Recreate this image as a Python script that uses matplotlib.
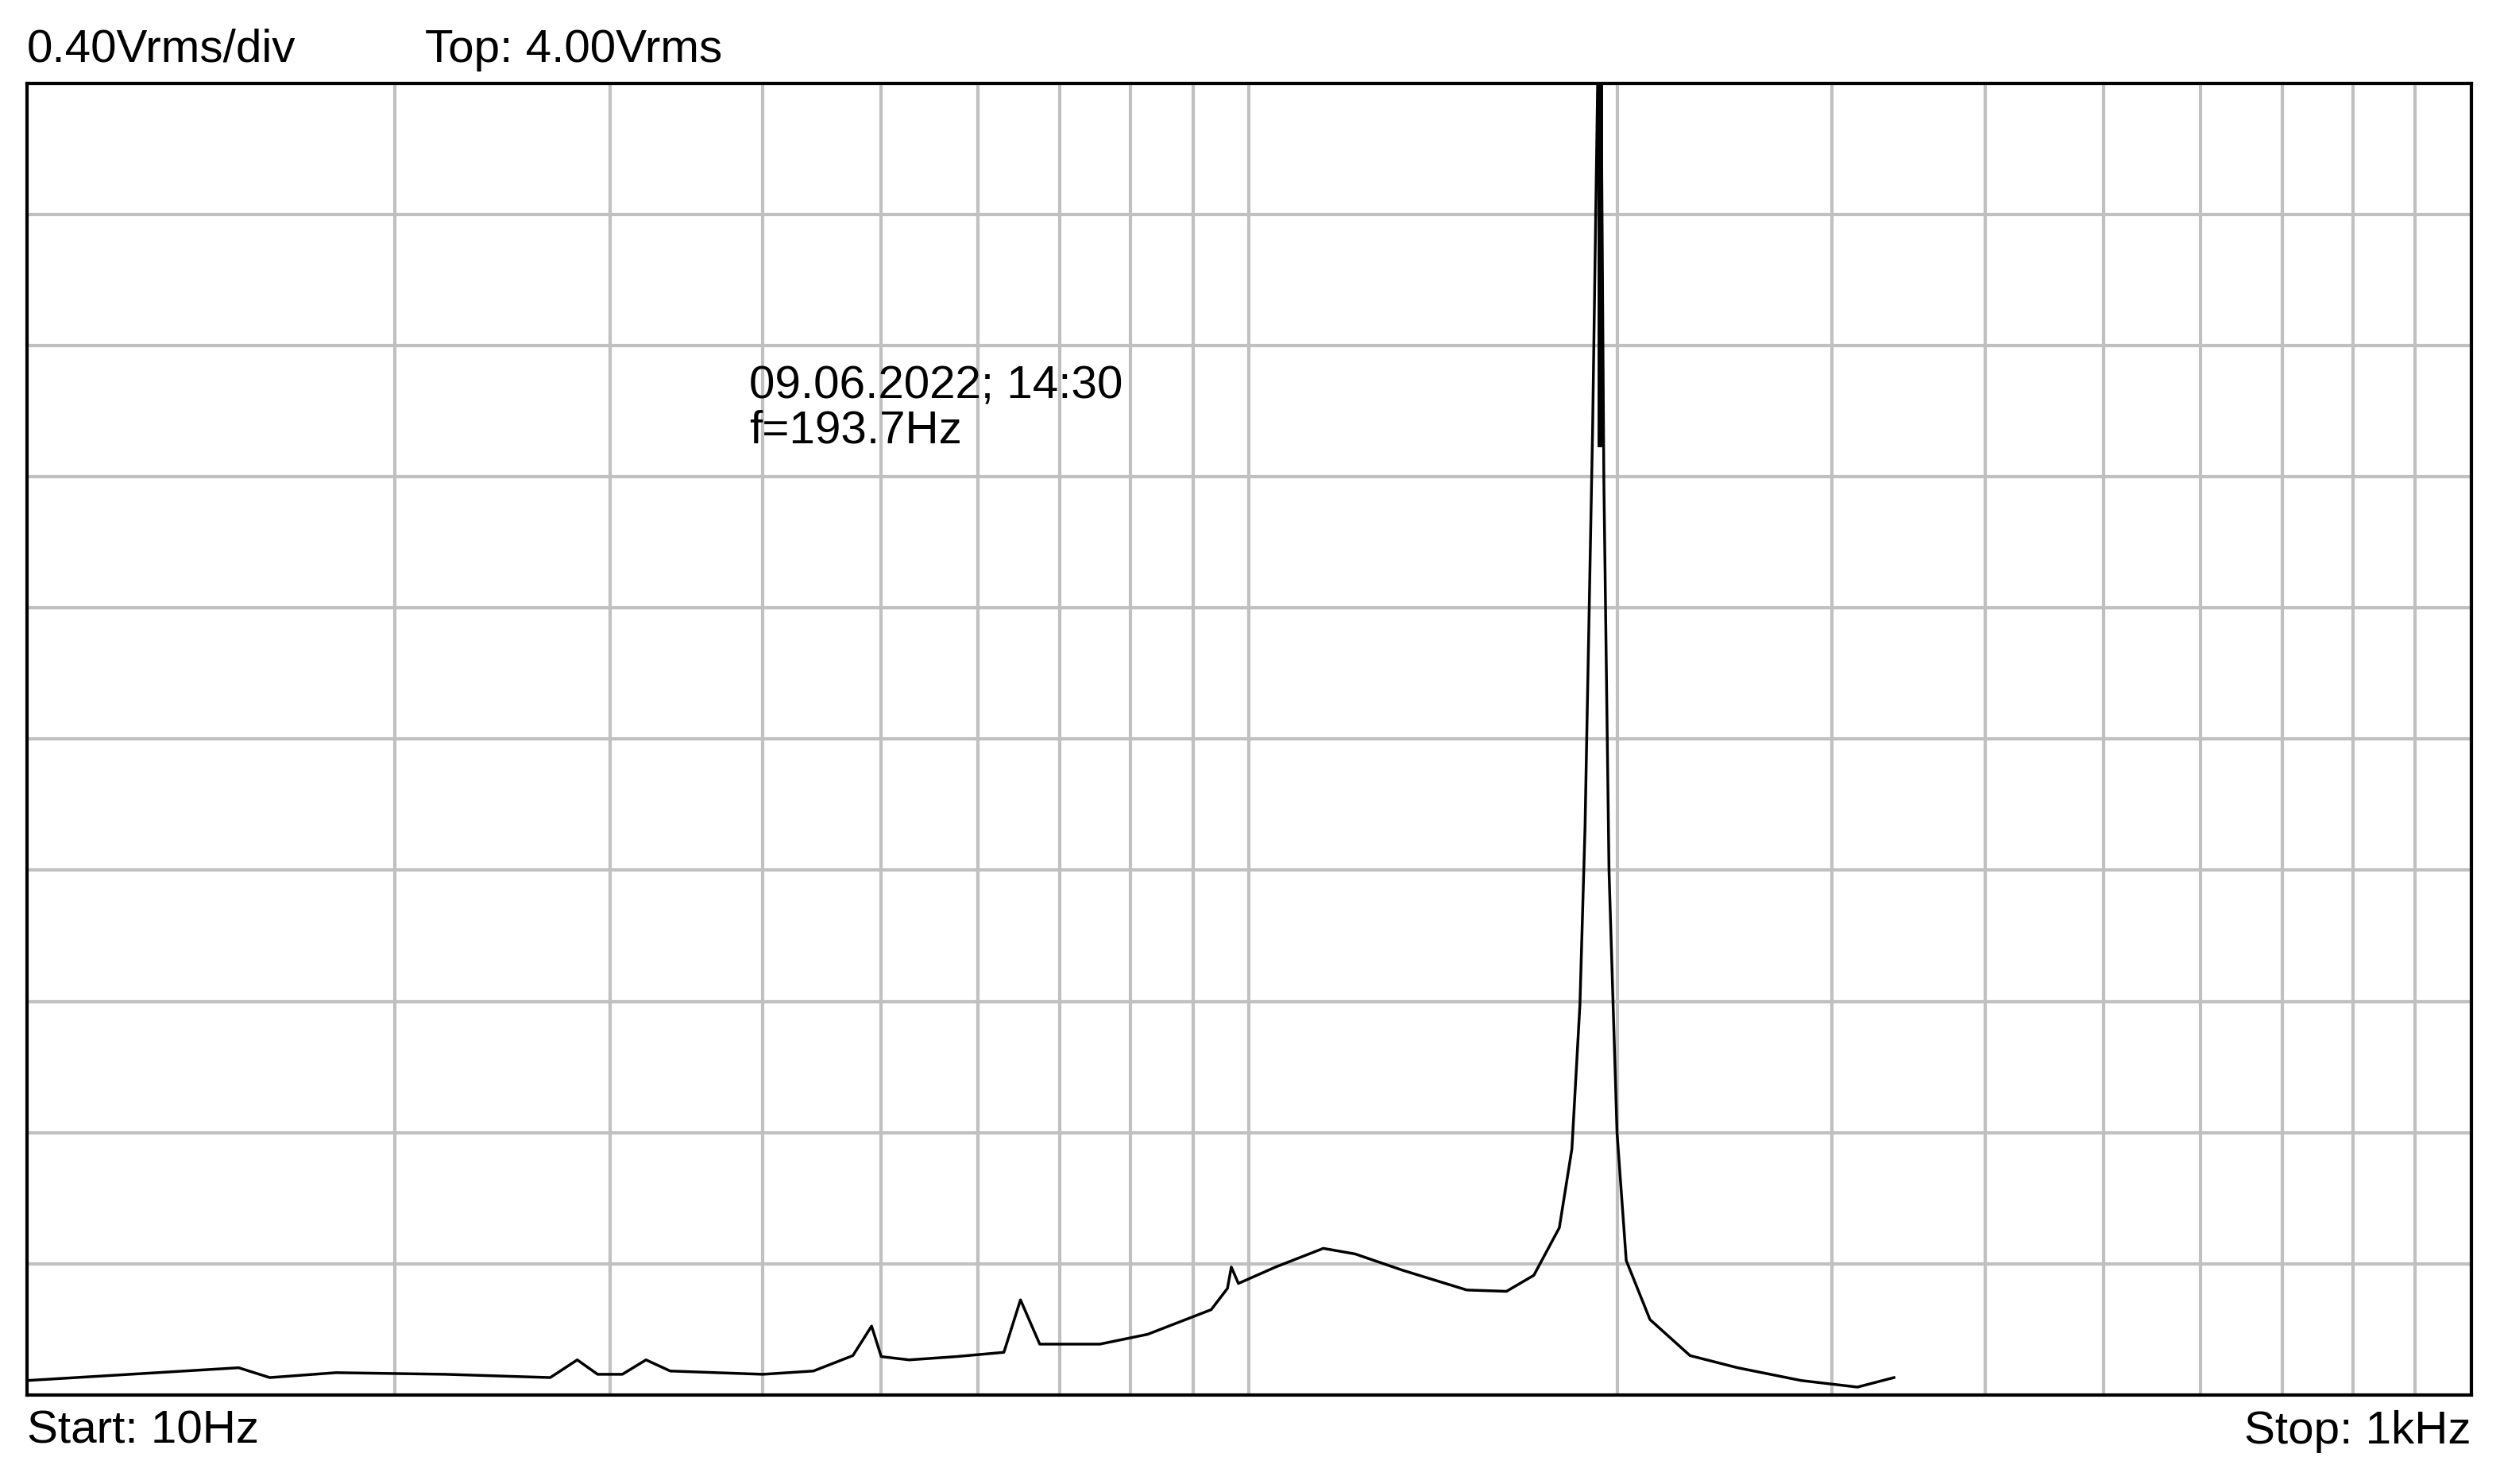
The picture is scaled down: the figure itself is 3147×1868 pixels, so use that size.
import numpy as np
import matplotlib
matplotlib.use("Agg")
import matplotlib.pyplot as plt

# spectrum trace (Hz, Vrms)
freq = [10, 14.9, 15.8, 17.9, 22.0, 26.8, 28.2, 29.3, 30.7, 32.1, 33.6, 40, 44.0,
        47.4, 49.1, 50, 52.7, 57.6, 63.0, 65.0, 67.4, 75.5, 82.6, 93.1, 96.0, 96.7,
        98.0, 105.1, 115.0, 122.1, 133.6, 150.7, 162.4, 171.0, 179.4, 183.7, 186.5,
        188.3, 191.0, 193.7, 195.1, 197.0, 200, 203.5, 212.8, 229.5, 251, 283,
        314.6, 337]
vrms = [0.044, 0.083, 0.053, 0.068, 0.063, 0.053, 0.107, 0.063, 0.063, 0.107, 0.073,
        0.063, 0.073, 0.12, 0.21, 0.117, 0.107, 0.117, 0.13, 0.29, 0.155, 0.155,
        0.185, 0.26, 0.325, 0.39, 0.34, 0.39, 0.447, 0.43, 0.38, 0.32, 0.316, 0.365,
        0.51, 0.75, 1.19, 1.73, 2.94, 4.5, 2.79, 1.6, 0.80, 0.41, 0.23, 0.12, 0.083,
        0.044, 0.024, 0.053]

x_ticks = [m * 10 ** e for e in (1, 2) for m in range(1, 10)] + [1000]
y_ticks = np.arange(0, 4.01, 0.4)

plt.rcParams['font.family'] = ['Liberation Sans', 'DejaVu Sans']
fig = plt.figure(figsize=(31.47, 18.68), dpi=100)
ax = fig.add_axes([0.0108, 0.060, 0.9777, 0.884])
ax.set_xscale("log")
ax.set_xlim(10, 1000)
ax.set_ylim(0, 4.0)
ax.set_xticks(x_ticks)
ax.set_yticks(y_ticks)
ax.minorticks_off()
ax.tick_params(length=0, labelbottom=False, labelleft=False)
ax.grid(True, color="#c0c0c0", linewidth=3)
ax.set_axisbelow(True)
for s in ax.spines.values():
    s.set_linewidth(3)
    s.set_color("black")

ax.plot(freq, vrms, color="black", linewidth=2.5)
ax.plot([193.7, 193.7], [2.9, 4.0], color="black", linewidth=5)

ax.text(39.0, 3.14, "09.06.2022; 14:30\nf=193.7Hz", fontsize=42, va="top",
        linespacing=1.05)

fs = 42
fig.text(0.0108, 0.952, "0.40Vrms/div", fontsize=fs, va="bottom")
fig.text(0.170, 0.952, "Top: 4.00Vrms", fontsize=fs, va="bottom")
fig.text(0.0108, 0.050, "Start: 10Hz", fontsize=fs, va="top")
fig.text(0.9885, 0.050, "Stop: 1kHz", fontsize=fs, va="top", ha="right")

fig.savefig("out.png", dpi=100)
